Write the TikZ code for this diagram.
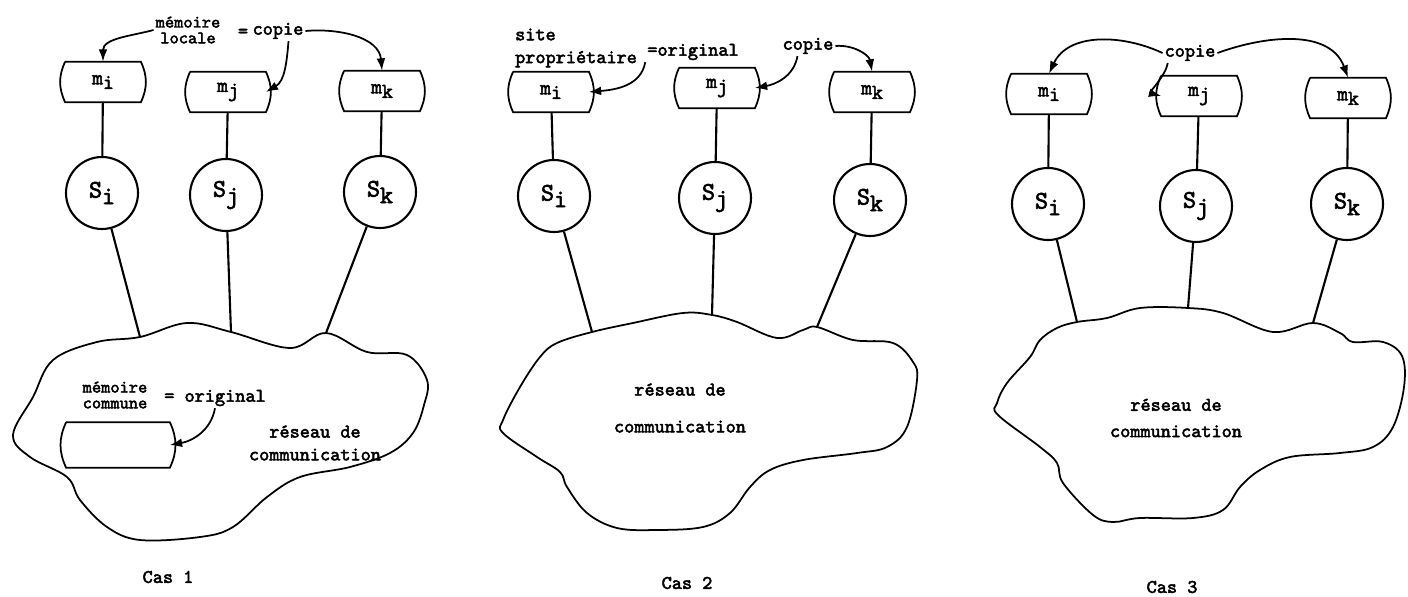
\documentclass[tikz,border=0pt]{standalone}
\usepackage{fontspec}
\setmonofont[AutoFakeBold=2.5]{Latin Modern Mono}
\usetikzlibrary{arrows.meta}

\tikzset{
  mem/.style={minimum width=1.5cm, minimum height=0.8cm, inner sep=0pt, font=\ttfamily\bfseries\large},
  site/.style={draw, line width=1.2pt, circle, minimum size=1.44cm, inner sep=0pt, font=\ttfamily\bfseries\Large},
  lbl/.style={font=\ttfamily\bfseries\fontsize{11}{13}\selectfont, inner sep=1pt},
  small lbl/.style={font=\ttfamily\bfseries\fontsize{10}{9}\selectfont, inner sep=1pt},
  arr/.style={-{Latex[length=7pt,width=5pt]}, line width=1pt},
  link/.style={line width=1.2pt},
  cloud/.style={line width=1pt}
}
% memory box with bulging sides
\newcommand{\memo}[1]{\draw[line width=1pt] (#1.north west) -- (#1.north east) to[bend left=25] (#1.south east) -- (#1.south west) to[bend left=25] (#1.north west);}

\begin{document}
\begin{tikzpicture}[x=0.02cm, y=0.02cm]
\useasboundingbox (0,0) rectangle (1408,-597);

% Cas 1
\node[mem] (mi1) at (103,-82) {m\raisebox{-.5ex}{i}};
\node[mem] (mj1) at (228,-92) {m\raisebox{-.5ex}{j}};
\node[mem] (mk1) at (382,-91) {m\raisebox{-.5ex}{k}};
\memo{mi1} \memo{mj1} \memo{mk1}
\node[site] (si1) at (102,-193) {S\raisebox{-.6ex}{i}};
\node[site] (sj1) at (226,-195) {S\raisebox{-.6ex}{j}};
\node[site] (sk1) at (380,-192) {S\raisebox{-.6ex}{k}};
\draw[link] (mi1) -- (si1);
\draw[link] (mj1) -- (sj1);
\draw[link] (mk1) -- (sk1);
\coordinate (ti1) at (140,-337);
\coordinate (tj1) at (231,-332);
\coordinate (tk1) at (326,-333);
\draw[cloud] plot[smooth cycle, tension=0.6] coordinates {(ti1) (187,-323) (tj1) (290,-348) (tk1) (367,-352) (407,-355) (427,-380) (424,-405) (413,-433) (390,-453) (350,-467) (300,-477) (267,-497) (233,-527) (200,-537) (140,-540) (107,-527) (80,-500) (67,-477) (30,-457) (13,-435) (33,-397) (53,-360) (97,-342)};
\draw[link] (si1) -- (ti1);
\draw[link] (sj1) -- (tj1);
\draw[link] (sk1) -- (tk1);
\node[small lbl, align=center] (ml1) at (188,-30) {mémoire\\locale};
\node[lbl] (eq1) at (243,-33) {=};
\node[lbl] (cp1) at (278,-31) {copie};
\draw[arr] (ml1.west) to[out=195, in=90] (mi1.north);
\draw[arr] ([xshift=6]cp1.south) to[out=-95, in=30] (mj1.east);
\draw[arr] (cp1.east) to[out=5, in=95] (mk1.north);
\node[mem, minimum width=2.06cm, minimum height=0.9cm] (mc1) at (118,-445) {};
\memo{mc1}
\node[small lbl, align=center] (mcl1) at (115,-395) {mémoire\\commune};
\node[lbl] (or1) at (215,-398) {= original};
\draw[arr] (or1.south) to[out=-100, in=10] (mc1.east);
\node[lbl, align=center] (net1) at (315,-443) {réseau de\\communication};
\node[lbl] (cas1) at (168,-577) {Cas 1};

% Cas 2
\node[mem] (mi2) at (551,-92) {m\raisebox{-.5ex}{i}};
\node[mem] (mj2) at (717,-88) {m\raisebox{-.5ex}{j}};
\node[mem] (mk2) at (872,-92) {m\raisebox{-.5ex}{k}};
\memo{mi2} \memo{mj2} \memo{mk2}
\node[site] (si2) at (554,-196) {S\raisebox{-.6ex}{i}};
\node[site] (sj2) at (715,-198) {S\raisebox{-.6ex}{j}};
\node[site] (sk2) at (870,-200) {S\raisebox{-.6ex}{k}};
\draw[link] (mi2) -- (si2);
\draw[link] (mj2) -- (sj2);
\draw[link] (mk2) -- (sk2);
\coordinate (ti2) at (592,-332);
\coordinate (tj2) at (712,-315);
\coordinate (tk2) at (817,-327);
\draw[cloud] plot[smooth cycle, tension=0.6] coordinates {(ti2) (633,-323) (683,-313) (tj2) (737,-322) (777,-338) (803,-330) (tk2) (853,-340) (893,-343) (913,-362) (917,-380) (907,-427) (887,-447) (857,-453) (803,-460) (770,-470) (750,-487) (730,-513) (703,-527) (657,-530) (617,-528) (587,-513) (567,-487) (560,-472) (537,-457) (503,-433) (503,-420) (520,-387) (540,-357) (557,-343)};
\draw[link] (si2) -- (ti2);
\draw[link] (sj2) -- (tj2);
\draw[link] (sk2) -- (tk2);
\node[lbl, align=left] (sp2) at (576,-48) {site\\propriétaire};
\node[lbl] (or2) at (693,-52) {=original};
\draw[arr] (or2.south west) to[out=-100, in=5] (mi2.east);
\node[lbl] (cp2) at (808,-46) {copie};
\draw[arr] ([xshift=-6]cp2.south) to[out=-100, in=10] (mj2.east);
\draw[arr] (cp2.east) to[out=5, in=100] (mk2.north);
\node[lbl, align=center] (net2) at (680,-408) {réseau de\\[8pt]communication};
\node[lbl] (cas2) at (687,-583) {Cas 2};

% Cas 3
\node[mem] (mi3) at (1049,-94) {m\raisebox{-.5ex}{i}};
\node[mem] (mj3) at (1199,-96) {m\raisebox{-.5ex}{j}};
\node[mem] (mk3) at (1348,-98) {m\raisebox{-.5ex}{k}};
\memo{mi3} \memo{mj3} \memo{mk3}
\node[site] (si3) at (1048,-204) {S\raisebox{-.6ex}{i}};
\node[site] (sj3) at (1196,-206) {S\raisebox{-.6ex}{j}};
\node[site] (sk3) at (1347,-204) {S\raisebox{-.6ex}{k}};
\draw[link] (mi3) -- (si3);
\draw[link] (mj3) -- (sj3);
\draw[link] (mk3) -- (sk3);
\coordinate (ti3) at (1077,-322);
\coordinate (tj3) at (1188,-308);
\coordinate (tk3) at (1313,-323);
\draw[cloud] plot[smooth cycle, tension=0.6] coordinates {(ti3) (1107,-318) (1140,-308) (tj3) (1223,-313) (1273,-332) (tk3) (1340,-333) (1353,-342) (1383,-342) (1402,-356) (1404,-387) (1393,-427) (1373,-447) (1340,-453) (1290,-457) (1260,-470) (1240,-487) (1223,-510) (1193,-518) (1140,-518) (1113,-522) (1093,-515) (1063,-483) (1057,-463) (1040,-447) (998,-415) (997,-403) (1007,-383) (1030,-357) (1040,-340) (1057,-328)};
\draw[link] (si3) -- (ti3);
\draw[link] (sj3) -- (tj3);
\draw[link] (sk3) -- (tk3);
\node[lbl] (cp3) at (1190,-53) {copie};
\draw[arr] (cp3.west) to[out=155, in=65] (mi3.north);
\draw[arr] ([xshift=3]cp3.south west) to[out=-100, in=165] (mj3.west);
\draw[arr] (cp3.east) to[out=20, in=110] (mk3.north);
\node[lbl, align=center] (net3) at (1176,-418) {réseau de\\[2pt]communication};
\node[lbl] (cas3) at (1172,-587) {Cas 3};
\end{tikzpicture}
\end{document}
